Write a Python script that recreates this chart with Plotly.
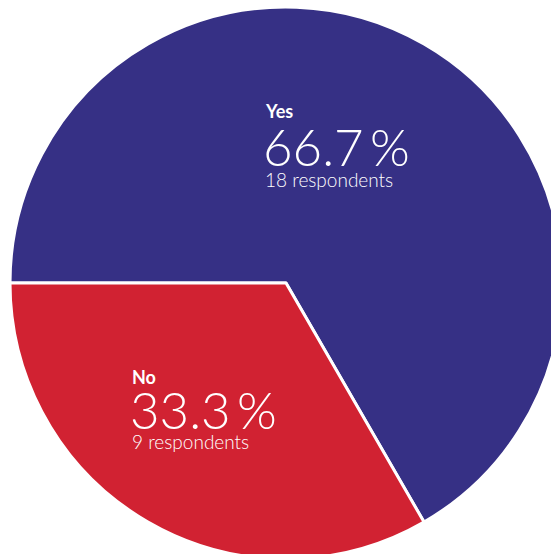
import plotly.graph_objects as go

labels = ["Yes", "No"]
counts = [18, 9]
colors = ["#363085", "#D12232"]

W, H = 572, 566
total = sum(counts)
pcts = [c / total * 100 for c in counts]

fig = go.Figure(go.Pie(
    labels=labels,
    values=counts,
    sort=False,
    direction="clockwise",
    rotation=270,
    marker=dict(colors=colors, line=dict(color="white", width=3)),
    textinfo="none",
    hoverinfo="label+percent",
    showlegend=False,
    domain=dict(x=[10 / W, 562 / W], y=[1 - 559 / H, 1 - 7 / H]),
))

# label anchor positions in pixels (left x, centre y of each text line)
label_pos = [(263, 111, 146, 179), (130, 377, 409, 441)]

def px(x):
    return x / W

def py(y):
    return 1 - y / H

for lab, cnt, pct, (x0, y1, y2, y3) in zip(labels, counts, pcts, label_pos):
    fig.add_annotation(x=px(x0), y=py(y1), xref="paper", yref="paper", xanchor="left", yanchor="middle",
                       text=f"<b>{lab}</b>", showarrow=False,
                       font=dict(family="Lato", size=18, color="white"))
    fig.add_annotation(x=px(x0 - 2), y=py(y2), xref="paper", yref="paper", xanchor="left", yanchor="middle",
                       text=f"{pct:.1f}\u2009%", showarrow=False,
                       font=dict(family="Lato Light, Lato", size=51, color="white", weight=300))
    fig.add_annotation(x=px(x0), y=py(y3), xref="paper", yref="paper", xanchor="left", yanchor="middle",
                       text=f"{cnt} respondents", showarrow=False,
                       font=dict(family="Lato Light, Lato", size=19, color="white", weight=300))

fig.update_layout(
    width=W, height=H,
    margin=dict(l=0, r=0, t=0, b=0),
    paper_bgcolor="white",
    plot_bgcolor="white",
)

fig.write_html("out.html")
